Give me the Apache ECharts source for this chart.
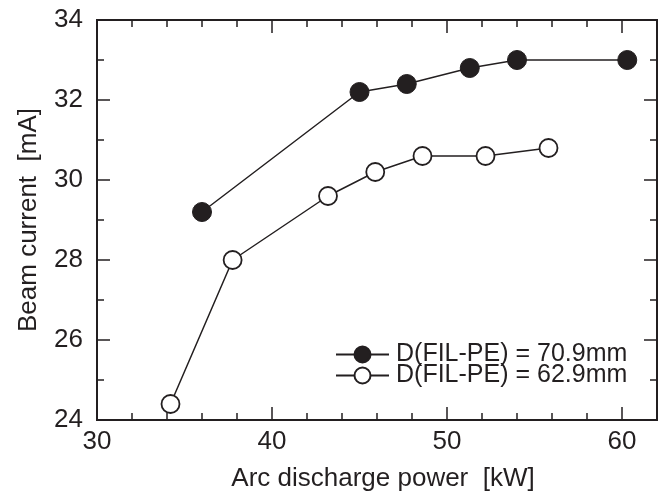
<!DOCTYPE html>
<html>
<head>
<meta charset="utf-8">
<script src="https://cdn.jsdelivr.net/npm/echarts@6/dist/echarts.min.js"></script>
<style>html,body{margin:0;padding:0;background:#fff}#c{width:664px;height:496px}</style>
</head>
<body>
<div id="c"></div>
<script>
var seriesNames = ['D(FIL-PE) = 70.9mm', 'D(FIL-PE) = 62.9mm'];
var powerFilled = [36.0, 45.0, 47.7, 51.3, 54.0, 60.3];
var currentFilled = [29.2, 32.2, 32.4, 32.8, 33.0, 33.0];
var powerOpen = [34.2, 37.75, 43.2, 45.9, 48.6, 52.2, 55.8];
var currentOpen = [24.4, 28.0, 29.6, 30.2, 30.6, 30.6, 30.8];
var xTickLabels = ['30', '40', '50', '60'];
var yTickLabels = ['24', '26', '28', '30', '32', '34'];
var xTitle = 'Arc discharge power  [kW]';
var yTitle = 'Beam current  [mA]';

var INK = '#231f20';
var FONT = '"Liberation Sans", Arial, Helvetica, sans-serif';
var FS = 26;

function pairs(xs, ys) { return xs.map(function (x, i) { return [x, ys[i]]; }); }

function xAx(pos, interval, len, labels) {
  return {
    type: 'value', position: pos, min: 30, max: 62, interval: interval,
    axisLine: { show: true, onZero: false, lineStyle: { color: INK, width: 2 } },
    axisTick: { show: true, inside: true, length: len, lineStyle: { color: INK, width: 1.5 } },
    axisLabel: labels ? {
      show: true, margin: 9, color: INK, fontFamily: FONT, fontSize: FS,
      formatter: function (v) { var s = String(v); return xTickLabels.indexOf(s) >= 0 ? s : ''; }
    } : { show: false },
    splitLine: { show: false }
  };
}
function yAx(pos, interval, len, labels) {
  return {
    type: 'value', position: pos, min: 24, max: 34, interval: interval,
    axisLine: { show: true, onZero: false, lineStyle: { color: INK, width: 2 } },
    axisTick: { show: true, inside: true, length: len, lineStyle: { color: INK, width: 1.5 } },
    axisLabel: labels ? {
      show: true, margin: 14, color: INK, fontFamily: FONT, fontSize: FS,
      formatter: function (v) { var s = String(v); return yTickLabels.indexOf(s) >= 0 ? s : ''; }
    } : { show: false },
    splitLine: { show: false }
  };
}

var chart = echarts.init(document.getElementById('c'));
chart.setOption({
  animation: false,
  backgroundColor: '#fff',
  grid: { left: 97, right: 7, top: 20, bottom: 76, containLabel: false },
  xAxis: [xAx('bottom', 2, 7, true), xAx('bottom', 10, 13, false), xAx('top', 2, 7, false), xAx('top', 10, 13, false)],
  yAxis: [yAx('left', 1, 7, true), yAx('left', 2, 13, false), yAx('right', 1, 7, false), yAx('right', 2, 13, false)],
  legend: {
    orient: 'vertical', left: 335, top: 342, itemWidth: 53, itemHeight: 20, itemGap: -4, padding: 0,
    textStyle: { color: INK, fontFamily: FONT, fontSize: 25, lineHeight: 20, padding: [0, 0, 0, 2] },
    data: seriesNames
  },
  graphic: [
    { type: 'text', x: 383, y: 479, style: { text: xTitle, fill: INK, font: FS + 'px ' + FONT, textAlign: 'center', textVerticalAlign: 'middle' } },
    { type: 'text', x: 29, y: 220, rotation: Math.PI / 2, style: { text: yTitle, fill: INK, font: FS + 'px ' + FONT, textAlign: 'center', textVerticalAlign: 'middle' } }
  ],
  series: [
    {
      name: seriesNames[0], type: 'line', xAxisIndex: 0, yAxisIndex: 0,
      data: pairs(powerFilled, currentFilled),
      symbol: 'circle', symbolSize: 19, showAllSymbol: true,
      lineStyle: { color: INK, width: 1.5 },
      itemStyle: { color: INK, borderColor: INK, borderWidth: 1 }, z: 3
    },
    {
      name: seriesNames[1], type: 'line', xAxisIndex: 0, yAxisIndex: 0,
      data: pairs(powerOpen, currentOpen),
      symbol: 'circle', symbolSize: 18, showAllSymbol: true,
      lineStyle: { color: INK, width: 1.5 },
      itemStyle: { color: '#fff', borderColor: INK, borderWidth: 1.8 }, z: 3
    }
  ]
});
</script>
</body>
</html>
